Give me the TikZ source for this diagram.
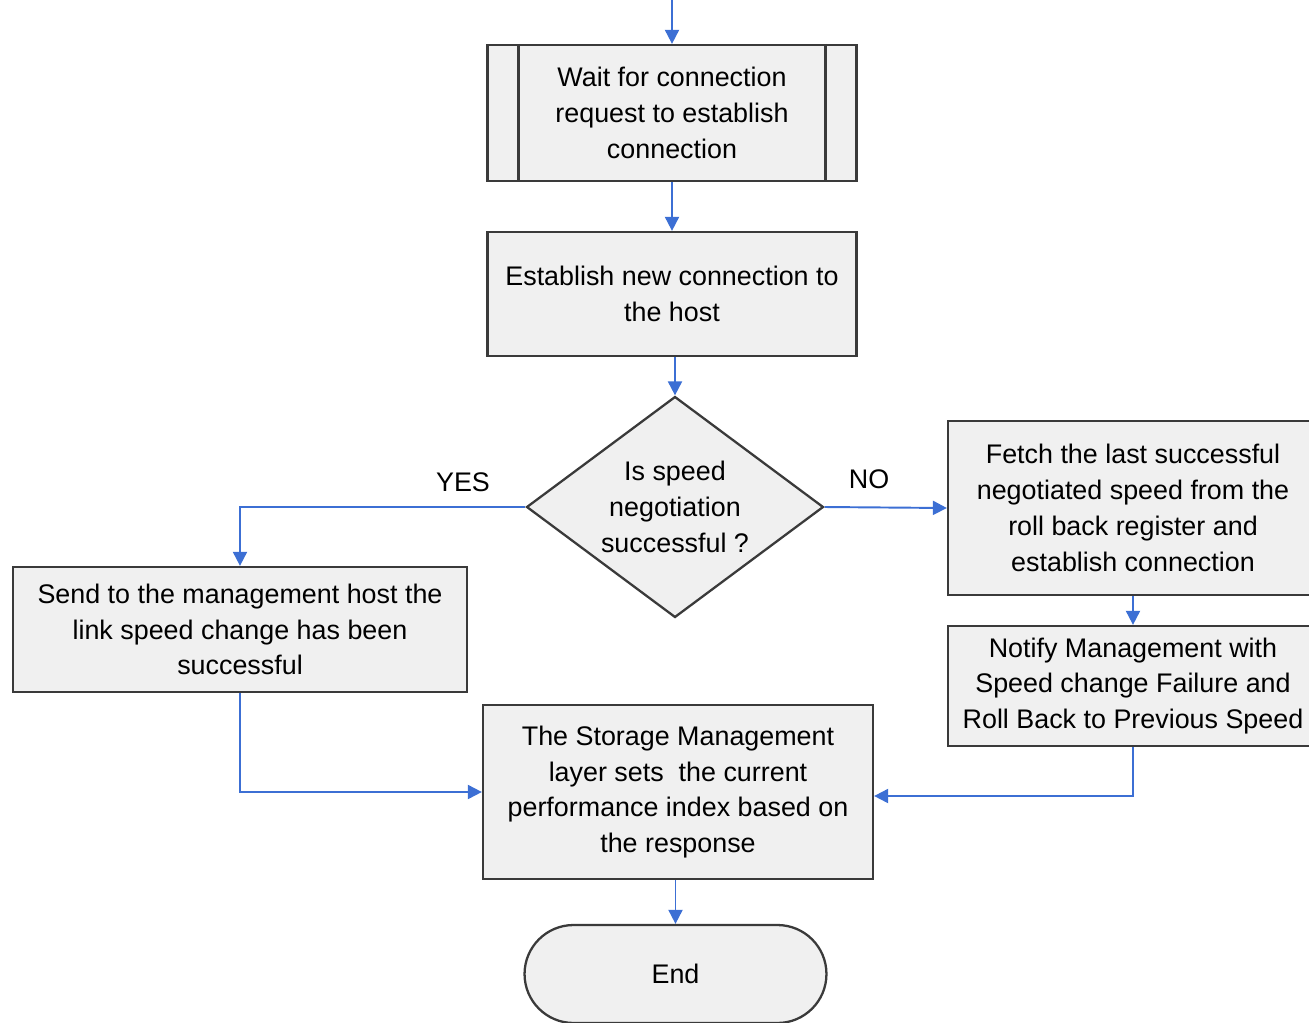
\documentclass[tikz,border=0pt]{standalone}
\usepackage{fontspec}
\setmainfont{Liberation Sans}
\usetikzlibrary{shapes.geometric,shapes.misc,arrows.meta}
\definecolor{boxfill}{HTML}{F0F0F0}
\definecolor{boxline}{HTML}{3A3A3A}
\definecolor{flowblue}{HTML}{3C6FD4}
\tikzset{
  procbox/.style={draw=boxline, fill=boxfill, line width=1.3pt, align=center,
    font=\fontsize{15.3}{20.4}\selectfont, inner sep=2pt},
  decbox/.style={procbox, diamond, shape aspect=1.34, inner sep=0pt},
  termbox/.style={procbox, rounded rectangle},
  flow/.style={draw=flowblue, line width=1.1pt, -{Triangle[length=8pt,width=8pt]}},
  lbl/.style={font=\fontsize{15.3}{18}\selectfont}
}
\begin{document}
\begin{tikzpicture}[x=0.02cm, y=-0.02cm]
    \useasboundingbox (0,0) rectangle (1309,1022);
    % Boxes
    \node[procbox, minimum width=7.38cm, minimum height=2.72cm] (wait) at (672,113)
        {Wait for connection\\request to establish\\connection};
    \draw[boxline, line width=1.3pt] ([xshift=0.64cm]wait.north west) -- ([xshift=0.64cm]wait.south west)
        ([xshift=-0.64cm]wait.north east) -- ([xshift=-0.64cm]wait.south east);
    \node[procbox, minimum width=7.38cm, minimum height=2.48cm] (conn) at (672,294)
        {Establish new connection to\\the host};
    \node[decbox, minimum width=5.94cm, minimum height=4.42cm] (check) at (675,507)
        {Is speed\\negotiation\\successful ?};
    \node[procbox, minimum width=9.08cm, minimum height=2.5cm] (send) at (240,629.5)
        {Send to the management host the\\link speed change has been\\successful};
    \node[procbox, minimum width=7.4cm, minimum height=3.48cm] (fetch) at (1133,508)
        {Fetch the last successful\\negotiated speed from the\\roll back register and\\establish connection};
    \node[procbox, minimum width=7.4cm, minimum height=2.4cm] (notify) at (1133,686)
        {Notify Management with\\Speed change Failure and\\Roll Back to Previous Speed};
    \node[procbox, minimum width=7.8cm, minimum height=3.48cm] (store) at (678,792)
        {The Storage Management\\layer sets\ \ the current\\performance index based on\\the response};
    \node[termbox, minimum width=6.18cm, minimum height=1.96cm] (finish) at (675.5,974) {End};
    % Connectors
    \coordinate (start) at (672,0);
    \draw[flow] (start) -- (wait.north);
    \draw[flow] (wait) -- (conn);
    \draw[flow] (check.north |- conn.south) -- (check.north);
    \draw[flow] (check.west) -| (send.north);
    \draw[flow] (check.east) -- (fetch.west);
    \draw[flow] (fetch) -- (notify);
    \draw[flow] (send.south) |- (store.west);
    \draw[flow] (notify.south) |- ([yshift=-0.08cm]store.east);
    \draw[flow] (finish.north |- store.south) -- (finish.north);
    % Branch labels
    \node[lbl] (yes) at (463,482) {YES};
    \node[lbl] (no) at (869,479) {NO};
\end{tikzpicture}
\end{document}
